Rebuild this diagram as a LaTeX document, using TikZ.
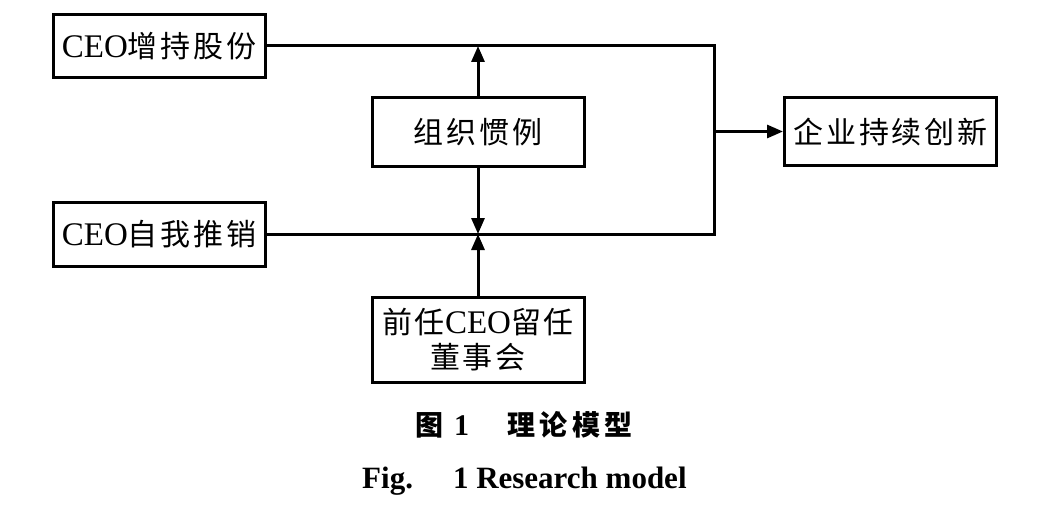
\documentclass[tikz,border=0pt]{standalone}
\usepackage{fontspec}
\setmainfont{Liberation Serif}
\newfontfamily\cjk[LetterSpace=9]{Noto Sans CJK SC}
\newfontfamily\cjkcap[LetterSpace=16]{Noto Sans CJK SC}
\usetikzlibrary{arrows.meta}
\newcommand{\lat}{\fontsize{33}{36}\selectfont}
\newcommand{\zh}{\cjk\fontsize{30}{36}\selectfont}
\begin{document}
\begin{tikzpicture}[x=1pt,y=-1pt,
  box/.style={draw,line width=3pt,minimum width=212pt,inner sep=0pt,align=center,font=\lat},
  conn/.style={line width=3pt},
  arr/.style={line width=3pt,-{Triangle[length=16pt,width=13pt]}}]
\useasboundingbox (0,0) rectangle (1040,508);
\node[box,minimum height=63pt] (b1) at (159,46) {CEO{\zh 增持股份}};
\node[box,minimum height=64pt] (b2) at (159,234) {CEO{\zh 自我推销}};
\node[box,minimum height=68pt] (org) at (478,132) {\zh 组织惯例};
\node[box,minimum height=85pt] (prev) at (478,339.5) {{\zh 前任}CEO{\zh 留任}\\[-1pt]{\zh 董事会}};
\node[box,minimum height=67pt] (out) at (890.5,131.5) {\zh 企业持续创新};
\coordinate (tr) at (714,46);
\coordinate (br) at (714,234);
\coordinate (tm) at (478,46);
\coordinate (bm) at (478,234);
\draw[conn] (b1.east) -- (tr) -- (br) -- (b2.east);
\draw[arr] (tr |- out.west) -- (out.west);
\draw[arr] (org.north) -- (tm);
\draw[arr] (org.south) -- (bm);
\draw[arr] (prev.north) -- (bm);
\node[anchor=west,inner sep=0pt] (cap1) at (415,425)
  {{\cjk\bfseries\fontsize{28}{30}\selectfont 图}\hspace{11pt}{\bfseries\fontsize{30}{30}\selectfont 1}\hspace{38pt}{\cjkcap\bfseries\fontsize{28}{30}\selectfont 理论模型}};
\node[anchor=base west,inner sep=0pt] (cap2) at (362,488)
  {\bfseries\fontsize{31}{34}\selectfont Fig.\hspace{40pt}1 Research model};
\end{tikzpicture}
\end{document}
